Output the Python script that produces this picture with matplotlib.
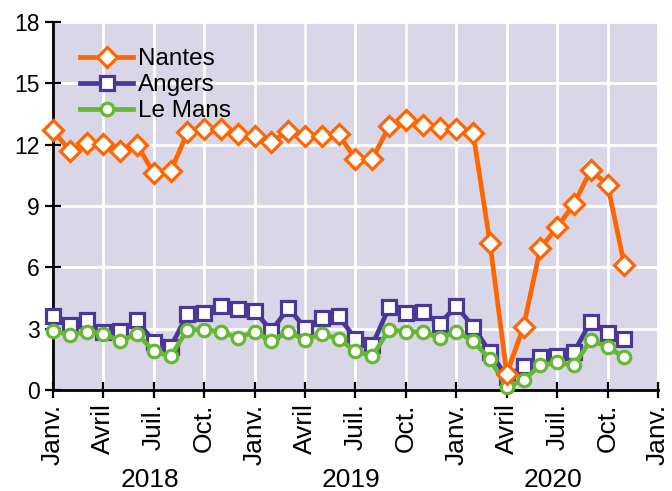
import matplotlib
matplotlib.use("Agg")
import matplotlib.pyplot as plt
import matplotlib.transforms as mtransforms

plt.rcParams['font.family'] = ['Liberation Sans', 'DejaVu Sans']

nantes = [12.7, 11.7, 12.1, 12.05, 11.7, 12.0, 10.6, 10.7, 12.6, 12.75, 12.75, 12.5,
          12.4, 12.15, 12.65, 12.4, 12.4, 12.5, 11.3, 11.3, 12.9, 13.2, 12.95, 12.8,
          12.75, 12.55, 7.2, 0.8, 3.1, 6.95, 7.95, 9.1, 10.75, 10.05, 6.1]
angers = [3.6, 3.2, 3.4, 2.85, 2.9, 3.4, 2.35, 2.1, 3.7, 3.75, 4.1, 3.95,
          3.85, 2.9, 4.0, 3.05, 3.5, 3.6, 2.5, 2.2, 4.05, 3.75, 3.8, 3.25,
          4.1, 3.1, 1.85, 0.65, 1.15, 1.6, 1.65, 1.85, 3.35, 2.8, 2.5]
le_mans = [2.9, 2.7, 2.85, 2.75, 2.4, 2.75, 1.9, 1.65, 2.95, 2.95, 2.85, 2.55,
           2.85, 2.4, 2.85, 2.45, 2.75, 2.5, 1.9, 1.65, 2.95, 2.85, 2.85, 2.55,
           2.85, 2.4, 1.5, 0.15, 0.5, 1.2, 1.35, 1.2, 2.45, 2.1, 1.6]
month_labels = ["Janv.", "Avril", "Juil.", "Oct."] * 3 + ["Janv."]
years = ["2018", "2019", "2020"]
y_ticks = [0, 3, 6, 9, 12, 15, 18]

months = list(range(len(nantes)))

c_nantes = "#FF6600"
c_angers = "#4B3797"
c_lemans = "#66B832"

fig = plt.figure(figsize=(6.72, 4.91), dpi=100)
ax = fig.add_axes([53/672, 1 - 390/491, (658-53)/672, (390-22)/491])
ax.set_facecolor("#D9D6E8")

ax.plot(months, angers, color=c_angers, lw=3.4, marker="s", ms=9.5, mfc="white",
        mec=c_angers, mew=2.3, label="Angers", zorder=3, clip_on=False)
ax.plot(months, le_mans, color=c_lemans, lw=3.4, marker="o", ms=9, mfc="white",
        mec=c_lemans, mew=2.3, label="Le Mans", zorder=4, clip_on=False)
ax.plot(months, nantes, color=c_nantes, lw=3.4, marker="D", ms=10, mfc="white",
        mec=c_nantes, mew=2.3, label="Nantes", zorder=5, clip_on=False)

ax.set_xlim(0, 36)
ax.set_ylim(0, 18)
ax.set_xticks(range(0, 37, 3))
ax.set_xticklabels(month_labels, rotation=90, fontsize=19)
ax.set_yticks(y_ticks)
ax.set_yticklabels([str(v) for v in y_ticks], fontsize=16.5)

ax.grid(True, color="white", lw=2)
ax.set_axisbelow(True)
for s in ["top", "right"]:
    ax.spines[s].set_visible(False)
for s in ["left", "bottom"]:
    ax.spines[s].set_linewidth(2)
    ax.spines[s].set_color("black")
ax.tick_params(direction="inout", length=11.5, width=1.6, colors="black", pad=4)

trans = mtransforms.blended_transform_factory(ax.transData, ax.transAxes)
for i, y in enumerate(years):
    ax.text(i * 12 + 5.75, -0.245, y, transform=trans, ha="center", va="center",
            fontsize=19)

handles, labels = ax.get_legend_handles_labels()
order = [2, 0, 1]
ax.legend([handles[i] for i in order], [labels[i] for i in order],
          loc="upper left", frameon=False, fontsize=17.5, handlelength=2.2,
          handletextpad=0.2, labelspacing=0.17, borderaxespad=0, borderpad=0,
          bbox_to_anchor=(0.0446, 0.929))

fig.savefig("out.png", dpi=100)
